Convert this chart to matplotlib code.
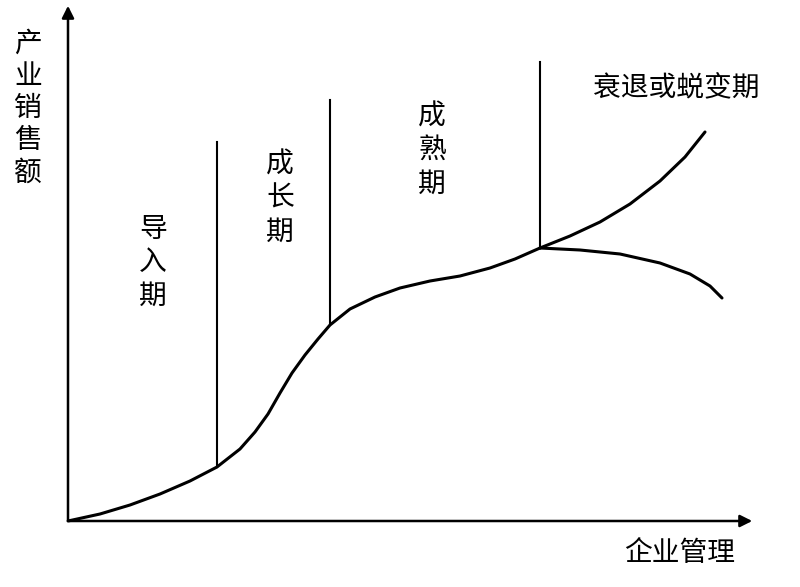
import matplotlib.pyplot as plt

plt.rcParams['font.family'] = ['Noto Sans CJK SC', 'DejaVu Sans']

# curve (pixel coordinates, y down)
main_x = [68, 100, 130, 160, 190, 217, 240, 255, 268, 280, 292, 305, 318, 330, 350, 375, 400, 430, 460, 490, 515, 540]
main_y = [521, 514, 505, 494, 481, 467, 449, 432, 414, 393, 373, 355, 339, 325, 309, 297, 288, 281, 276, 268, 259, 248]
up_x = [540, 570, 600, 630, 660, 685, 705]
up_y = [248, 236, 222, 204, 181, 157, 132]
down_x = [540, 580, 620, 660, 690, 710, 722]
down_y = [248, 250, 254, 263, 274, 286, 298]
stage_x = [217, 330, 540]
stage_top = [142, 100, 62]
stage_bottom = [467, 325, 248]
stage_labels = ['导\n入\n期', '成\n长\n期', '成\n熟\n期']
stage_label_x = [153, 280, 432]
stage_label_y = [262, 198, 150]

fig = plt.figure(figsize=(8, 5.87), dpi=100)
ax = fig.add_axes([0, 0, 1, 1])
ax.set_xlim(0, 800)
ax.set_ylim(587, 0)
ax.axis('off')

ax.annotate('', xy=(755, 521), xytext=(66, 521),
            arrowprops=dict(arrowstyle='-|>', color='black', lw=1.8, mutation_scale=18))
ax.annotate('', xy=(68, 3), xytext=(68, 523),
            arrowprops=dict(arrowstyle='-|>', color='black', lw=1.8, mutation_scale=18))

for xs, ys in [(main_x, main_y), (up_x, up_y), (down_x, down_y)]:
    ax.plot(xs, ys, color='black', lw=2.2, solid_capstyle='round')

for x, t, b in zip(stage_x, stage_top, stage_bottom):
    ax.plot([x, x], [t, b], color='black', lw=1.5)

for lab, x, y in zip(stage_labels, stage_label_x, stage_label_y):
    ax.text(x, y, lab, fontsize=20, ha='center', va='center', linespacing=1.15)

ax.text(28, 108, '产\n业\n销\n售\n额', fontsize=20, ha='center', va='center', linespacing=1.1)
ax.text(680, 553, '企业管理', fontsize=20, ha='center', va='center')
ax.text(676, 88, '衰退或蜕变期', fontsize=20, ha='center', va='center')

fig.savefig('out.png', dpi=100)
